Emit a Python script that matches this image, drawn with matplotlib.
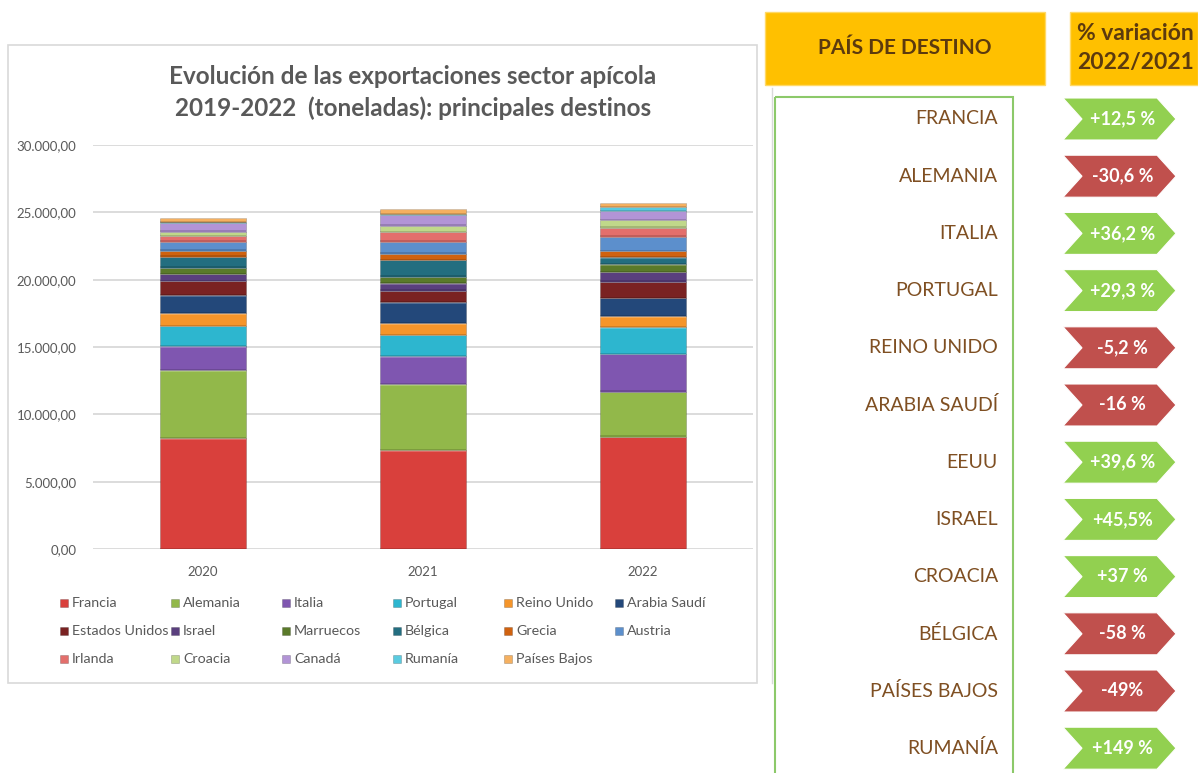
import matplotlib
matplotlib.use("Agg")
import matplotlib.pyplot as plt
from matplotlib.patches import Rectangle, Polygon
import numpy as np

plt.rcParams['font.family'] = ['Lato', 'DejaVu Sans']

# ---------------- data ----------------
years = ["2020", "2021", "2022"]
countries = ["Francia", "Alemania", "Italia", "Portugal", "Reino Unido", "Arabia Saudí",
             "Estados Unidos", "Israel", "Marruecos", "Bélgica", "Grecia", "Austria",
             "Irlanda", "Croacia", "Canadá", "Rumanía", "Países Bajos"]
francia      = [8240, 7350, 8320]
alemania     = [5050, 4900, 3340]
italia       = [1780, 2080, 2820]
portugal     = [1490, 1560, 2000]
reino_unido  = [960, 890, 820]
arabia_saudi = [1340, 1560, 1340]
eeuu         = [1040, 820, 1190]
israel       = [520, 590, 740]
marruecos    = [450, 450, 590]
belgica      = [820, 1260, 520]
grecia       = [450, 450, 450]
austria      = [670, 890, 1040]
irlanda      = [450, 740, 670]
croacia      = [300, 450, 590]
canada       = [670, 820, 670]
rumania      = [70, 70, 300]
paises_bajos = [300, 370, 300]
series = [francia, alemania, italia, portugal, reino_unido, arabia_saudi, eeuu, israel,
          marruecos, belgica, grecia, austria, irlanda, croacia, canada, rumania, paises_bajos]
colors = ["#D9403C", "#92B84A", "#7F56B0", "#2DB6CF", "#F5952A", "#23487A", "#7A2222",
          "#5A3F7E", "#5A7A2A", "#236E80", "#D0620F", "#5C8FCC", "#E36F6C", "#C0D88A",
          "#B294D6", "#5ACBE0", "#F5B060"]
yticks = [0, 5000, 10000, 15000, 20000, 25000, 30000]
ytick_labels = ["0,00", "5.000,00", "10.000,00", "15.000,00", "20.000,00", "25.000,00", "30.000,00"]

table_countries = ["FRANCIA", "ALEMANIA", "ITALIA", "PORTUGAL", "REINO UNIDO", "ARABIA SAUDÍ",
                   "EEUU", "ISRAEL", "CROACIA", "BÉLGICA", "PAÍSES BAJOS", "RUMANÍA"]
variation_labels = ["+12,5 %", "-30,6 %", "+36,2 %", "+29,3 %", "-5,2 %", "-16 %",
                    "+39,6 %", "+45,5%", "+37 %", "-58 %", "-49%", "+149 %"]

# ---------------- figure ----------------
W, H = 1198, 773
fig = plt.figure(figsize=(W / 100, H / 100), dpi=100)
fig.patch.set_facecolor("white")

ov = fig.add_axes([0, 0, 1, 1], zorder=0)
ov.set_xlim(0, W)
ov.set_ylim(H, 0)
ov.axis("off")

# chart frame and title
ov.add_patch(Rectangle((8, 45), 749, 638, fill=False, edgecolor="#D9D9D9", lw=1.2))
ov.text(413, 77, "Evolución de las exportaciones sector apícola", ha="center", va="center",
        fontsize=17.5, fontweight="bold", color="#595959")
ov.text(413, 108, "2019-2022  (toneladas): principales destinos", ha="center", va="center",
        fontsize=17.5, fontweight="bold", color="#595959")

# chart axes
ax = fig.add_axes([93 / W, (H - 549) / H, 660 / W, (549 - 145) / H], zorder=1)
ax.set_facecolor("none")
x = np.arange(len(years))
bw = 0.39
bottom = np.zeros(len(years))
for vals, col in zip(series, colors):
    v = np.array(vals, dtype=float)
    ax.bar(x, v, bottom=bottom, width=bw, color=col, edgecolor="#00000035", linewidth=0.6, zorder=3)
    hl = np.minimum(v * 0.25, 110)
    # bevel: light band at top, darker band at bottom
    ax.bar(x, hl, bottom=bottom + v - hl, width=bw, color="white", alpha=0.22,
           linewidth=0, zorder=4)
    ax.bar(x, hl, bottom=bottom, width=bw, color="black", alpha=0.15,
           linewidth=0, zorder=4)
    bottom += v
ax.set_xlim(-0.5, 2.5)
ax.set_ylim(0, 30000)
ax.set_yticks(yticks)
ax.set_yticklabels(ytick_labels)
ax.set_xticks(x)
ax.set_xticklabels(years)
ax.grid(axis="y", color="#D9D9D9", lw=1.3, zorder=0)
for s in ax.spines.values():
    s.set_visible(False)
ax.tick_params(axis="both", length=0, labelsize=9.5, labelcolor="#595959")
ax.tick_params(axis="y", pad=12)
ax.tick_params(axis="x", pad=12)

# legend (manual, row-major)
for i, (name, col) in enumerate(zip(countries, colors)):
    r, c = divmod(i, 6)
    lx = 60 + c * 111
    ly = 603 + r * 28
    ov.add_patch(Rectangle((lx, ly - 4), 8, 8, facecolor=col, edgecolor="#00000040", lw=0.5))
    ov.text(lx + 12, ly, name, ha="left", va="center", fontsize=10.3, color="#595959")

# ---------------- right table ----------------
ov.add_patch(Rectangle((765, 12), 280, 73, facecolor="#FFC000", edgecolor="#FFD966", lw=1))
ov.text(905, 48, "PAÍS DE DESTINO", ha="center", va="center", fontsize=15,
        fontweight="bold", color="#5C3A0E")
ov.add_patch(Rectangle((1070, 12), 128, 73, facecolor="#FFC000", edgecolor="#FFD966", lw=1))
ov.text(1135, 33, "% variación", ha="center", va="center", fontsize=16.5,
        fontweight="bold", color="#5C3A0E")
ov.text(1135, 62, "2022/2021", ha="center", va="center", fontsize=16.5,
        fontweight="bold", color="#5C3A0E")

ov.plot([772, 772], [88, 683], color="#D9D9D9", lw=1)
ov.add_patch(Rectangle((775, 97), 238, 690, fill=False, edgecolor="#8CC96A", lw=1.5))

for i, (name, lab) in enumerate(zip(table_countries, variation_labels)):
    yc = 119 + i * 57.2
    ov.text(998, yc, name, ha="right", va="center", fontsize=14, color="#7F4F22")
    col = "#C0504D" if lab.startswith("-") else "#92D050"
    x0, x1, h, d = 1063, 1176, 21, 19
    pts = [(x0, yc - h), (x1 - d, yc - h), (x1, yc), (x1 - d, yc + h), (x0, yc + h), (x0 + d, yc)]
    ov.add_patch(Polygon(pts, closed=True, facecolor=col, edgecolor="white", lw=0.8))
    ov.text((x0 + x1) / 2 + 3, yc, lab, ha="center", va="center", fontsize=13,
            fontweight="bold", color="white")

fig.savefig("out.png", dpi=100, facecolor="white")
